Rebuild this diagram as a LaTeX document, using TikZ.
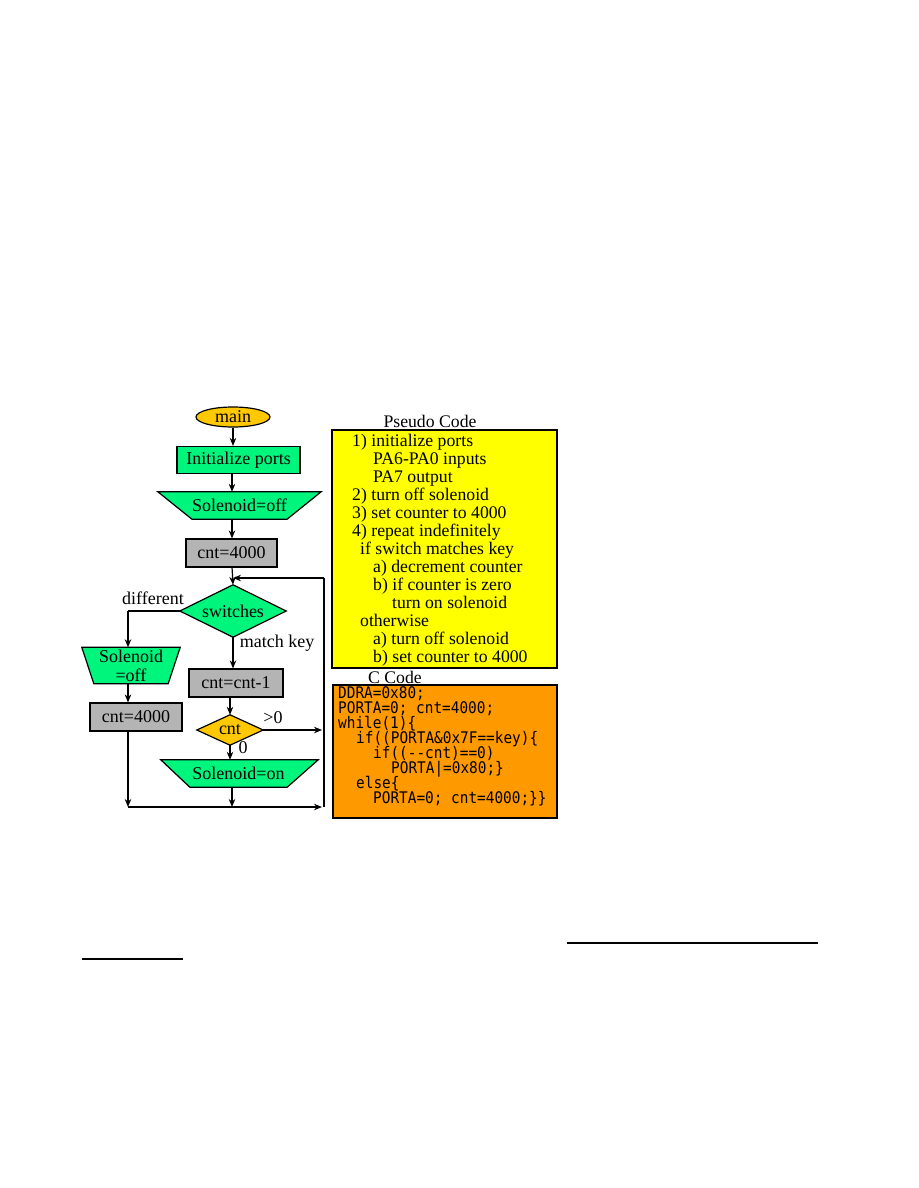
\documentclass[tikz,border=0pt]{standalone}
\usepackage{fontspec}
\setmainfont{Liberation Serif}
\setmonofont{DejaVu Sans Mono}
\newfontfamily\codefont[FakeStretch=0.9]{DejaVu Sans Mono}
\usetikzlibrary{arrows.meta,shapes.geometric,backgrounds}
\definecolor{fgreen}{RGB}{0,245,125}
\definecolor{fgray}{RGB}{180,180,180}
\definecolor{fgold}{RGB}{255,200,0}
\definecolor{fyellow}{RGB}{255,255,0}
\definecolor{forange}{RGB}{255,153,0}
\tikzset{
  x=1pt,y=-1pt,
  ln/.style={line width=1.2pt,draw=black},
  arr/.style={ln,-{Stealth[length=8pt,width=6.5pt]}},
  ftext/.style={font=\fontsize{18}{19}\selectfont,inner sep=0pt},
  rbox/.style={ftext,draw=black,line width=1.2pt,rectangle,fill=#1},
  hid/.style={ftext,rectangle,align=center},
  shp/.style={line width=1.2pt,draw=black,fill=#1},
  lbl/.style={ftext},
  pline/.style={font=\fontsize{17.7}{18}\selectfont,inner sep=0pt,anchor=base west},
  cline/.style={font=\codefont\fontsize{16}{15}\selectfont,inner sep=0pt,anchor=base west,text height=10.5pt,text depth=3pt},
}
\begin{document}
\begin{tikzpicture}
\useasboundingbox (0,0) rectangle (918,1188);
% ---------- flowchart nodes ----------
\node[ftext,ellipse,draw=black,line width=1.2pt,fill=fgold,minimum width=74pt,minimum height=20pt] (main) at (233,417) {main};
\node[rbox=fgreen,minimum width=123pt,minimum height=27pt] (init) at (238.5,460) {Initialize ports};
\node[hid,minimum width=91pt,minimum height=27pt] (soff) at (239.5,505.5) {Solenoid=off};
\node[rbox=fgray,minimum width=91pt,minimum height=28pt] (cA) at (231.5,553) {cnt=4000};
\node[hid,minimum width=106pt,minimum height=52pt] (sw) at (233,611) {switches};
\node[hid,minimum width=74pt,minimum height=36pt,font=\fontsize{18}{19}\selectfont] (lsoff) at (131,665.5) {Solenoid\\=off};
\node[rbox=fgray,minimum width=92pt,minimum height=28pt] (cB) at (136,717) {cnt=4000};
\node[rbox=fgray,minimum width=94pt,minimum height=28pt] (dec) at (236,683) {cnt=cnt-1};
\node[hid,minimum width=66pt,minimum height=30pt] (cnt) at (230,730) {cnt};
\node[hid,minimum width=97pt,minimum height=27pt] (son) at (238.5,773.5) {Solenoid=on};
\begin{scope}[on background layer]
  \draw[shp=fgreen] ([xshift=-34pt]soff.north west) -- ([xshift=34pt]soff.north east) -- (soff.south east) -- (soff.south west) -- cycle;
  \draw[shp=fgreen] (sw.north) -- (sw.east) -- (sw.south) -- (sw.west) -- cycle;
  \draw[shp=fgreen] ([xshift=-12pt]lsoff.north west) -- ([xshift=12pt]lsoff.north east) -- (lsoff.south east) -- (lsoff.south west) -- cycle;
  \draw[shp=fgold] (cnt.north) -- (cnt.east) -- (cnt.south) -- (cnt.west) -- cycle;
  \draw[shp=fgreen] ([xshift=-29pt]son.north west) -- ([xshift=31pt]son.north east) -- (son.south east) -- (son.south west) -- cycle;
\end{scope}
% ---------- labels ----------
\node[lbl] (ldiff) at (153,598) {different};
\node[lbl] (lmatch) at (277,643) {match key};
\node[lbl] (lgt) at (273,718) {>0};
\node[lbl] (lzero) at (243,748) {0};
% ---------- helper coordinates ----------
\coordinate (loopB) at (324,807);
\coordinate (loopT) at (324,578);
\coordinate (spine) at (233,578);
\coordinate (lcorner) at (128,611);
\coordinate (botL) at (128,807);
\coordinate (botR) at (322,807);
\coordinate (gtR) at (322,730);
% ---------- connectors ----------
\draw[arr] (main.south) -- (main.south |- init.north);
\draw[arr] (232,473.5) -- (232,491.8);
\draw[arr] (232,519.2) -- (cA.north -| 232,0);
\draw[arr] (232,567) -- (sw.north);
\draw[ln] (loopB) -- (loopT);
\draw[arr] (loopT) -- (spine);
\draw[ln] (sw.west) -- (lcorner);
\draw[arr] (lcorner) -- (lcorner |- lsoff.north);
\draw[arr] (lcorner |- lsoff.south) -- (lcorner |- cB.north);
\draw[arr] (lcorner |- cB.south) -- (botL);
\draw[arr] (botL) -- (botR);
\draw[arr] (sw.south) -- (sw.south |- dec.north);
\draw[arr] (cnt.north |- dec.south) -- (cnt.north);
\draw[arr] (cnt.east) -- (gtR);
\draw[arr] (cnt.south) -- (cnt.south |- son.north);
\draw[arr] (232,787) -- (232,807);
% ---------- pseudo code ----------
\node[ftext,font=\fontsize{17.7}{18}\selectfont] (ptitle) at (430,421) {Pseudo Code};
\node[draw=black,line width=1.2pt,fill=fyellow,rectangle,inner sep=0pt,minimum width=225pt,minimum height=238pt] (pbox) at (444.5,549) {};
\node[pline] (p1) at (352,446) {1) initialize ports};
\node[pline] (p2) at (373,464) {PA6-PA0 inputs};
\node[pline] (p3) at (373,482) {PA7 output};
\node[pline] (p4) at (352,500) {2) turn off solenoid};
\node[pline] (p5) at (352,518) {3) set counter to 4000};
\node[pline] (p6) at (352,536) {4) repeat indefinitely};
\node[pline] (p7) at (360,554) {if switch matches key};
\node[pline] (p8) at (373,572) {a) decrement counter};
\node[pline] (p9) at (373,590) {b) if counter is zero};
\node[pline] (p10) at (392,608) {turn on solenoid};
\node[pline] (p11) at (360,626) {otherwise};
\node[pline] (p12) at (373,644) {a) turn off solenoid};
\node[pline] (p13) at (373,662) {b) set counter to 4000};
% ---------- C code ----------
\node[ftext,font=\fontsize{17.7}{18}\selectfont] (ctitle) at (395,677) {C Code};
\node[draw=black,line width=1.2pt,fill=forange,rectangle,inner sep=0pt,minimum width=224pt,minimum height=133pt] (cbox) at (445,751.5) {};
\node[cline] (c1) at (338,698) {DDRA=0x80;};
\node[cline] (c2) at (338,713) {PORTA=0; cnt=4000;};
\node[cline] (c3) at (338,728) {while(1)\{};
\node[cline] (c4) at (356,743) {if((PORTA\&0x7F==key)\{};
\node[cline] (c5) at (373,758) {if((--cnt)==0)};
\node[cline] (c6) at (391,773) {PORTA|=0x80;\}};
\node[cline] (c7) at (356,788) {else\{};
\node[cline] (c8) at (373,803) {PORTA=0; cnt=4000;\}\}};
% ---------- stray rules ----------
\draw[line width=1.3pt] (567,943) -- (818,943);
\draw[line width=1.3pt] (82,959) -- (183,959);
\end{tikzpicture}
\end{document}
